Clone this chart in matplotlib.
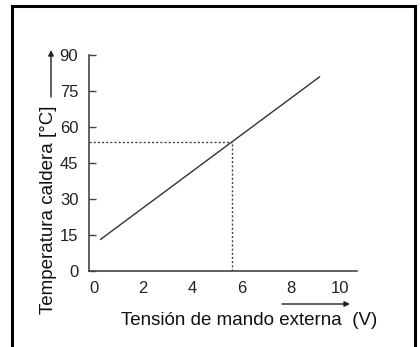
import numpy as np
import matplotlib.pyplot as plt
from matplotlib.lines import Line2D

plt.rcParams['font.family'] = ['Liberation Sans', 'DejaVu Sans']

# data
volt = [0.25, 9.2]
temp = [13.0, 81.0]
mark_v = 5.6
mark_t = 53.5
xticks = [0, 2, 4, 6, 8, 10]
yticks = [0, 15, 30, 45, 60, 75, 90]

fig = plt.figure(figsize=(4.2, 3.47), dpi=100)
ax = fig.add_axes([0.213, 0.219, 0.637, 0.623])

ax.plot(volt, temp, color="#333333", lw=1.0, solid_capstyle="butt")
ax.plot([-0.18, mark_v], [mark_t, mark_t], color="#444444", lw=1.0, ls=(0, (1.5, 1.5)))
ax.plot([mark_v, mark_v], [0, mark_t], color="#444444", lw=1.0, ls=(0, (1.5, 1.5)))

ax.set_xlim(-0.18, 10.7)
ax.set_ylim(0, 90)
ax.set_xticks(xticks)
ax.set_yticks(yticks)
for s in ["top", "right"]:
    ax.spines[s].set_visible(False)
for s in ["left", "bottom"]:
    ax.spines[s].set_color("#444444")
    ax.spines[s].set_linewidth(1.2)
ax.tick_params(axis="x", length=0, pad=7, labelsize=12, colors="#222222")
ax.tick_params(axis="y", direction="in", length=5, width=1.0, pad=8, labelsize=12,
               colors="#222222", color="#444444")

fig.text(0.115, 0.395, "Temperatura caldera [°C]", rotation=90, ha="center", va="center",
         fontsize=13.5, color="#111111")
fig.text(0.592, 0.075, "Tensión de mando externa  (V)", ha="center", va="center",
         fontsize=13.5, color="#111111")

# arrows next to the labels
fig.add_artist(plt.Annotation("", xy=(51 / 420, 1 - 50 / 347), xytext=(51 / 420, 1 - 97 / 347),
                              xycoords="figure fraction", textcoords="figure fraction",
                              arrowprops=dict(arrowstyle="-|>", color="#222222", lw=1.0,
                                              mutation_scale=8, shrinkA=0, shrinkB=0)))
fig.add_artist(plt.Annotation("", xy=(350 / 420, 1 - 304 / 347), xytext=(282 / 420, 1 - 304 / 347),
                              xycoords="figure fraction", textcoords="figure fraction",
                              arrowprops=dict(arrowstyle="-|>", color="#222222", lw=1.0,
                                              mutation_scale=8, shrinkA=0, shrinkB=0)))

# frame around the figure (bottom edge is cut off)
for xs, ys in [([12, 12], [347, 6]), ([12, 414.5], [6, 6]), ([414.5, 414.5], [6, 347])]:
    fig.add_artist(Line2D([x / 420 for x in xs], [1 - y / 347 for y in ys],
                          color="black", lw=2.2, transform=fig.transFigure))

fig.savefig("out.png", dpi=100)
